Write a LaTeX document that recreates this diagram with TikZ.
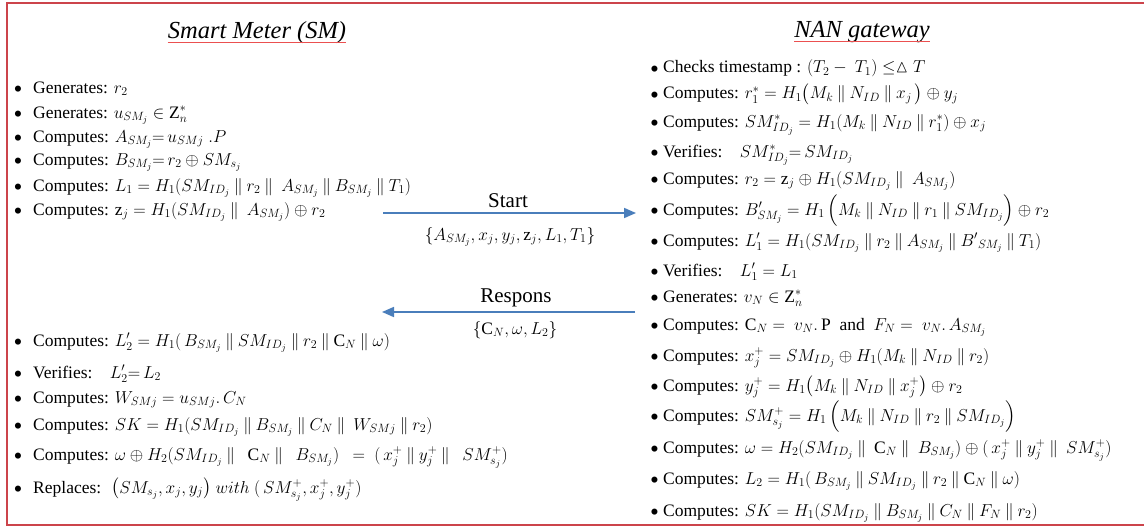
\documentclass[tikz,border=0pt]{standalone}
\usepackage{amsmath,amssymb}
\usepackage{fontspec}
\setmainfont{Liberation Serif}
\newfontfamily\tnr{Liberation Serif}
\usetikzlibrary{arrows.meta}
\definecolor{framered}{RGB}{204,68,75}
\definecolor{ulred}{RGB}{235,80,80}
\definecolor{arrowblue}{RGB}{74,126,187}
\newcommand{\Pl}{\mathbin{\Vert}}
\newcommand{\bul}{\raisebox{-0.5ex}{\scalebox{1.45}{\textbullet}}}
\newcommand{\itemL}[1]{\makebox[19.5pt][l]{\bul}#1}
\newcommand{\itemR}[1]{\makebox[13pt][l]{\bul}#1}
\tikzset{
  itm/.style={anchor=base west, inner sep=0pt, font=\tnr\fontsize{17.5}{20}\selectfont},
  ttl/.style={anchor=base, inner sep=0pt, font=\tnr\fontsize{24.5}{27}\selectfont\itshape},
  lbl/.style={anchor=base, inner sep=0pt, font=\tnr\fontsize{21}{24}\selectfont},
  mlbl/.style={anchor=base, inner sep=0pt, font=\tnr\fontsize{17.5}{20}\selectfont},
  msg/.style={draw=arrowblue, line width=1.7pt, -{Triangle[length=12pt,width=10pt]}},
  ul/.style={draw=ulred, line width=1.8pt},
  frame/.style={draw=framered, line width=1.8pt}
}
\begin{document}
\begin{tikzpicture}[x=1pt,y=-1pt]
\useasboundingbox (0,0) rectangle (1144,527);
\draw[frame] (1150,3) -- (7,3) -- (7,525) -- (1150,525);

% titles
\node[ttl] (t1) at (257,39) {Smart Meter (SM)};
\node[ttl] (t2) at (862,38) {NAN gateway};
\draw[ul] ([yshift=-3.5pt]t1.base west) -- ([yshift=-3.5pt]t1.base east);
\draw[ul] ([yshift=-3.5pt]t2.base west) -- ([yshift=-3.5pt]t2.base east);

% left upper list
\node[itm] (a1) at (13.5,93) {\itemL{Generates: $r_2$}};
\node[itm] (a2) at (13.5,118) {\itemL{Generates: $u_{SM_j}\in \mathrm{Z}_n^*$}};
\node[itm] (a3) at (13.5,142) {\itemL{Computes: $A_{SM_j}{=}\,u_{SMj}\;.P$}};
\node[itm] (a4) at (13.5,165) {\itemL{Computes: $B_{SM_j}{=}\,r_2\oplus SM_{s_j}$}};
\node[itm] (a5) at (13.5,191) {\itemL{Computes: $L_1 = H_1(SM_{ID_j}\Pl r_2\Pl\ A_{SM_j}\Pl B_{SM_j}\Pl T_1)$}};
\node[itm] (a6) at (13.5,215) {\itemL{Computes: $\mathrm{z}_j = H_1(SM_{ID_j}\Pl\ A_{SM_j})\oplus r_2$}};

% left lower list
\node[itm] (b1) at (13.5,346) {\itemL{Computes: $L_2' = H_1(\,B_{SM_j}\Pl SM_{ID_j}\Pl r_2\Pl \mathrm{C}_N\Pl \omega)$}};
\node[itm] (b2) at (13.5,378) {\itemL{Verifies:\quad $L_2'{=}\,L_2$}};
\node[itm] (b3) at (13.5,403) {\itemL{Computes: $W_{SMj} = u_{SMj}.\,C_N$}};
\node[itm] (b4) at (13.5,430) {\itemL{Computes: $SK = H_1(SM_{ID_j}\Pl B_{SM_j}\Pl C_N\Pl\ W_{SMj}\Pl r_2)$}};
\node[itm] (b5) at (13.5,460) {\itemL{Computes: $\omega\oplus H_2(SM_{ID_j}\Pl\ \ \mathrm{C}_N\Pl\ \ B_{SM_j})\ \ =\ (\,x_j^+\Pl y_j^+\Pl\ \ SM_{s_j}^+)$}};
\node[itm] (b6) at (13.5,493) {\itemL{Replaces: \ $\big(SM_{s_j},x_j,y_j\big)\ with\ (\,SM_{s_j}^+,x_j^+,y_j^+)$}};

% right list
\node[itm] (c1) at (650,73) {\itemR{Checks timestamp : $(T_2-\ T_1)\le\vartriangle T$}};
\node[itm] (c2) at (650,99) {\itemR{Computes: $r_1^* = H_1\big(M_k\Pl N_{ID}\Pl x_j\,\big)\oplus y_j$}};
\node[itm] (c3) at (650,127) {\itemR{Computes: $SM_{ID_j}^* = H_1(M_k\Pl N_{ID}\Pl r_1^*)\oplus x_j$}};
\node[itm] (c4) at (650,157) {\itemR{Verifies:\quad $SM_{ID_j}^*{=}\,SM_{ID_j}$}};
\node[itm] (c5) at (650,184) {\itemR{Computes: $r_2 = \mathrm{z}_j\oplus H_1(SM_{ID_j}\Pl\ A_{SM_j})$}};
\node[itm] (c6) at (650,215) {\itemR{Computes: $B_{SM_j}' = H_1\,\Big(M_k\Pl N_{ID}\Pl r_1\Pl SM_{ID_j}\Big)\oplus r_2$}};
\node[itm] (c7) at (650,246) {\itemR{Computes: $L_1' = H_1(SM_{ID_j}\Pl r_2\Pl A_{SM_j}\Pl {B'}_{SM_j}\Pl T_1)$}};
\node[itm] (c8) at (650,276) {\itemR{Verifies:\quad $L_1' = L_1$}};
\node[itm] (c9) at (650,302) {\itemR{Generates: $v_N\in\mathrm{Z}_n^*$}};
\node[itm] (c10) at (650,330) {\itemR{Computes: $\mathrm{C}_N =\ v_N.\,\mathrm{P}$\ \ and\ \ $F_N =\ v_N.\,A_{SM_j}$}};
\node[itm] (c11) at (650,361) {\itemR{Computes: $x_j^+ = SM_{ID_j}\oplus H_1(M_k\Pl N_{ID}\Pl r_2)$}};
\node[itm] (c12) at (650,391) {\itemR{Computes: $y_j^+ = H_1\big(M_k\Pl N_{ID}\Pl x_j^+\big)\oplus r_2$}};
\node[itm] (c13) at (650,421) {\itemR{Computes: $SM_{s_j}^+ = H_1\,\Big(M_k\Pl N_{ID}\Pl r_2\Pl SM_{ID_j}\Big)$}};
\node[itm] (c14) at (650,453) {\itemR{Computes: $\omega = H_2(SM_{ID_j}\Pl\ \mathrm{C}_N\Pl\ B_{SM_j})\oplus(\,x_j^+\Pl y_j^+\Pl\ SM_{s_j}^+)$}};
\node[itm] (c15) at (650,484) {\itemR{Computes: $L_2 = H_1(\,B_{SM_j}\Pl SM_{ID_j}\Pl r_2\Pl\mathrm{C}_N\Pl\omega)$}};
\node[itm] (c16) at (650,516) {\itemR{Computes: $SK = H_1(SM_{ID_j}\Pl B_{SM_j}\Pl C_N\Pl F_N\Pl r_2)$}};

% messages
\coordinate (s1) at (383,213);
\coordinate (s2) at (636,213);
\coordinate (r1) at (635,312);
\coordinate (r2) at (382,312);
\draw[msg] (s1) -- (s2);
\draw[msg] (r1) -- (r2);
\node[lbl] (sl) at (508,207) {Start};
\node[mlbl] (sm) at (510,240) {$\{A_{SM_j},x_j,y_j,\mathrm{z}_j,L_1,T_1\}$};
\node[lbl] (rl) at (516,302) {Respons};
\node[mlbl] (rm) at (515,334) {$\{\mathrm{C}_N,\omega,L_2\}$};
\end{tikzpicture}
\end{document}
